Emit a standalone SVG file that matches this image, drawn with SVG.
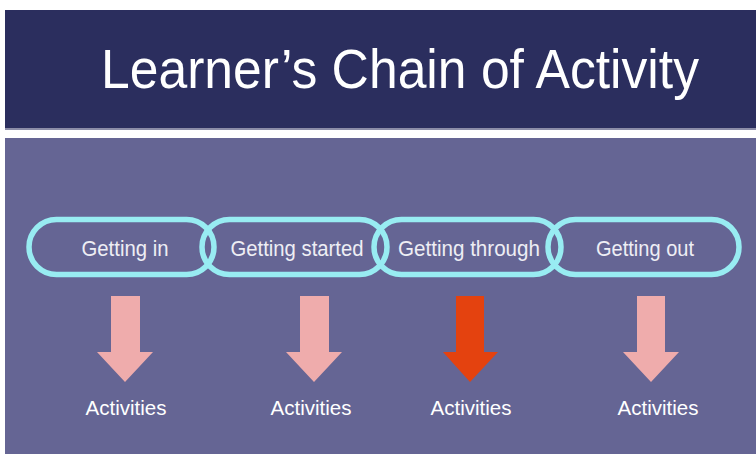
<svg xmlns="http://www.w3.org/2000/svg" width="756" height="458" viewBox="0 0 756 458">
<style>
.link{fill:none;stroke:#98ECF2;stroke-width:5.5}
.lbl{font-family:"Liberation Sans",Arial,sans-serif;font-size:22px;fill:#EEEEF4;text-anchor:middle}
.act{font-family:"Liberation Sans",Arial,sans-serif;font-size:21px;fill:#FFFFFF;text-anchor:middle}
.pink{fill:#EFACAC}
.red{fill:#E4420F}
</style>
<rect width="756" height="458" fill="#FFFFFF"/>
<rect x="5" y="10" width="751" height="118" fill="#2B2E5E"/>
<rect x="5" y="128" width="751" height="2" fill="#8C8DA8"/>
<rect x="5" y="138" width="751" height="316" fill="#656594"/>
<g id="title"><text x="400" y="88" font-family="'Liberation Sans',Arial,sans-serif" font-size="55" fill="#FFFFFF" text-anchor="middle" textLength="598" lengthAdjust="spacingAndGlyphs">Learner’s Chain of Activity</text></g>
<g id="connectors">
<path class="pink" d="M111,296 H140 V352 H153 L125,382 L97,352 H111 Z"/>
<path class="pink" d="M300,296 H329 V352 H342 L314,382 L286,352 H300 Z"/>
<path class="red" d="M456,296 H484 V352 H498 L470,382 L443,352 H456 Z"/>
<path class="pink" d="M637,296 H665 V352 H679 L651,382 L623,352 H637 Z"/>
</g>
<g id="n1"><rect class="link" x="29" y="219.5" width="185" height="55" rx="27.5"/><text class="lbl" x="125" y="256" textLength="87" lengthAdjust="spacingAndGlyphs">Getting in</text></g>
<g id="n2"><rect class="link" x="202" y="219.5" width="185" height="55" rx="27.5"/><text class="lbl" x="297" y="256" textLength="133" lengthAdjust="spacingAndGlyphs">Getting started</text></g>
<g id="n3"><rect class="link" x="374" y="219.5" width="187" height="55" rx="27.5"/><text class="lbl" x="469" y="256" textLength="142" lengthAdjust="spacingAndGlyphs">Getting through</text></g>
<g id="n4"><rect class="link" x="548" y="219.5" width="191" height="55" rx="27.5"/><text class="lbl" x="645" y="256" textLength="98" lengthAdjust="spacingAndGlyphs">Getting out</text></g>
<g id="a1"><text class="act" x="126" y="415" textLength="81" lengthAdjust="spacingAndGlyphs">Activities</text></g>
<g id="a2"><text class="act" x="311" y="415" textLength="81" lengthAdjust="spacingAndGlyphs">Activities</text></g>
<g id="a3"><text class="act" x="471" y="415" textLength="81" lengthAdjust="spacingAndGlyphs">Activities</text></g>
<g id="a4"><text class="act" x="658" y="415" textLength="81" lengthAdjust="spacingAndGlyphs">Activities</text></g>
</svg>
